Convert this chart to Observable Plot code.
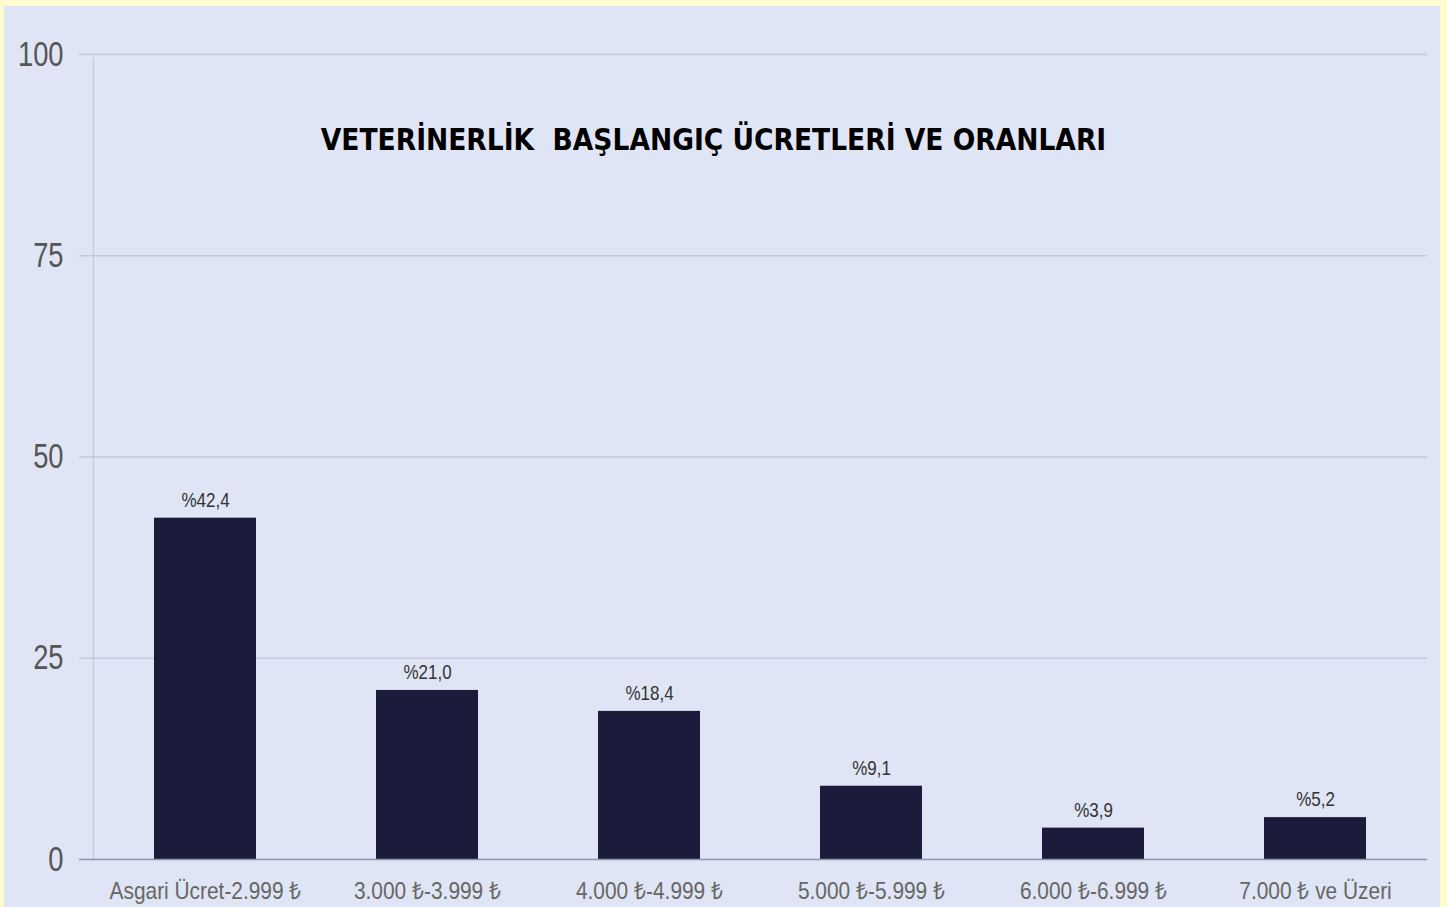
<!DOCTYPE html>
<html>
<head>
<meta charset="utf-8">
<script src="https://cdn.jsdelivr.net/npm/d3@7"></script>
<script src="https://cdn.jsdelivr.net/npm/@observablehq/plot@0.6"></script>
<style>
  html, body { margin: 0; padding: 0; background: #fffcd0; }
  #wrap { position: absolute; left: 4px; top: 6px; width: 1436px; height: 901px; background: #dfe5f4; overflow: hidden; }
  svg { display: block; }
</style>
</head>
<body>
<div id="wrap"></div>
<script>
const categories = ["Asgari Ücret-2.999 ₺", "3.000 ₺-3.999 ₺", "4.000 ₺-4.999 ₺", "5.000 ₺-5.999 ₺", "6.000 ₺-6.999 ₺", "7.000 ₺ ve Üzeri"];
const values = [42.4, 21.0, 18.4, 9.1, 3.9, 5.2];
const valueLabels = ["%42,4", "%21,0", "%18,4", "%9,1", "%3,9", "%5,2"];
const yTicks = [0, 25, 50, 75, 100];
const title = "VETERİNERLİK  BAŞLANGIÇ ÜCRETLERİ VE ORANLARI";

const data = categories.map((c, i) => ({cat: c, value: values[i], label: valueLabels[i]}));
const font = "'Liberation Sans', Arial, sans-serif";

const chart = Plot.plot({
  width: 1436,
  height: 901,
  marginLeft: 89,
  marginRight: 13,
  marginTop: 48,
  marginBottom: 48,
  style: {background: "transparent", fontFamily: font},
  x: {domain: categories, paddingInner: 0.54, paddingOuter: 0.27, label: null},
  y: {domain: [0, 100], ticks: yTicks, label: null},
  marks: [
    Plot.ruleY(yTicks.filter(d => d > 0), {stroke: "#c3c9dc", strokeWidth: 1.5, insetLeft: -14}),
    Plot.ruleX([categories[0]], {stroke: "#c4c8d6", strokeWidth: 1.2, dx: -112, y1: 0, y2: 99.6}),
    Plot.barY(data, {x: "cat", y: "value", fill: "#1c1b3b"}),
    Plot.ruleY([0], {stroke: "#8e93aa", strokeWidth: 1.5, insetLeft: -14}),
    Plot.text(data, {x: "cat", y: "value", text: "label", dy: -18, fontSize: 20, fill: "#333", className: "sx85"}),
    Plot.axisY({ticks: yTicks, tickSize: 0, tickPadding: 30, fontSize: 35, fill: "#555", label: null, className: "sx80"}),
    Plot.axisX({tickSize: 0, tickPadding: 22, fontSize: 24, fill: "#666", label: null, className: "sx87"}),
    Plot.text([title], {frameAnchor: "top", dx: -47, dy: 75, fontSize: 29.5, fontWeight: "bold", fill: "#000", fontFamily: "'DejaVu Sans Condensed', 'DejaVu Sans', sans-serif"})
  ]
});
// condensed look: scale text horizontally around each label's anchor
const scales = {sx85: 0.85, sx80: 0.78, sx87: 0.87};
for (const [cls, s] of Object.entries(scales)) {
  chart.querySelectorAll(`.${cls} text, g.${cls} text`).forEach(t => {
    const tr = t.getAttribute("transform") || "";
    const x = t.getAttribute("x");
    if (tr) t.setAttribute("transform", tr + ` scale(${s},1)`);
    else if (x != null) { t.setAttribute("transform", `translate(${x},0) scale(${s},1)`); t.setAttribute("x", 0); }
  });
}
document.getElementById("wrap").appendChild(chart);
</script>
</body>
</html>
